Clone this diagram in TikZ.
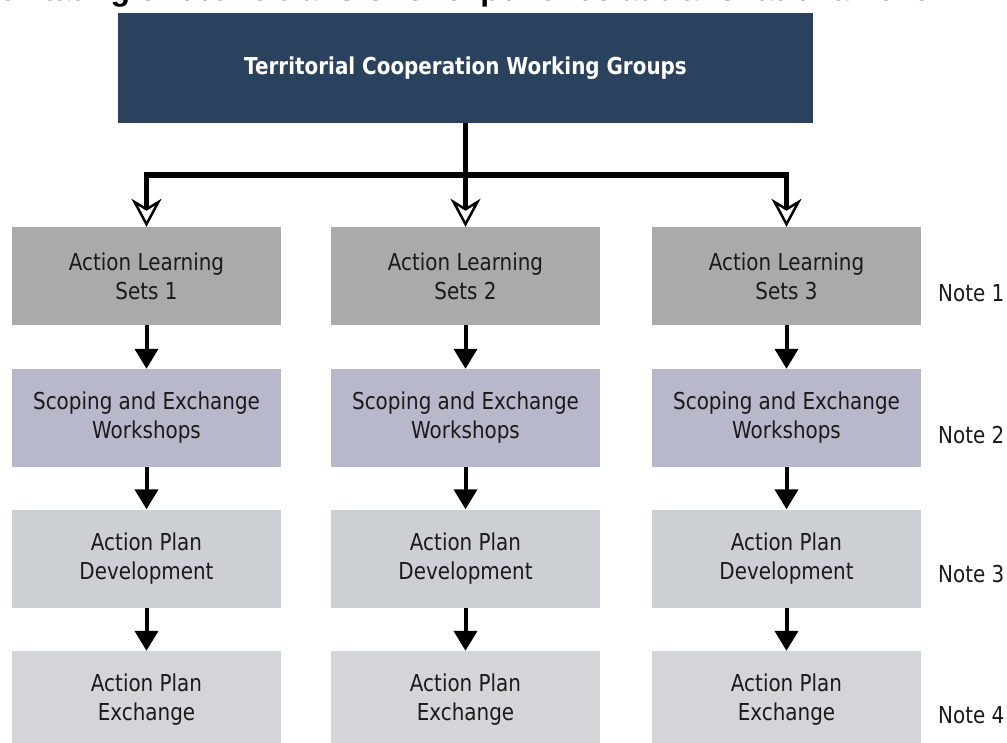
\documentclass[tikz,border=0pt]{standalone}
\usepackage{fontspec}
\setmainfont{DejaVu Sans}[FakeStretch=0.855]
\newfontfamily\headingfont{Liberation Sans}
\usetikzlibrary{arrows.meta}

\definecolor{headblue}{RGB}{42,66,93}
\definecolor{setgrey}{RGB}{170,170,170}
\definecolor{scopelilac}{RGB}{183,184,202}
\definecolor{plangrey}{RGB}{204,208,213}
\definecolor{exchgrey}{RGB}{211,213,216}
\definecolor{boxtext}{RGB}{26,26,26}

\begin{document}
\begin{tikzpicture}[x=1pt, y=-1pt,
  boxfont/.style={font=\fontsize{23.3}{29}\selectfont},
  stage/.style={boxfont, minimum width=269pt, minimum height=98pt,
    inner sep=0pt, align=center, text=boxtext},
  setbox/.style={stage, fill=setgrey},
  scopebox/.style={stage, fill=scopelilac},
  planbox/.style={stage, fill=plangrey},
  exchbox/.style={stage, fill=exchgrey},
  note/.style={boxfont, anchor=base west, inner sep=0pt, text=boxtext},
  trunk/.style={draw=black, line width=5.5pt},
  branch/.style={trunk, -{Stealth[length=28pt, width=30pt, inset=9pt,
    fill=white, line width=2.5pt]}},
  flow/.style={draw=black, line width=4pt,
    -{Triangle[length=20pt, width=23pt]}}]

\useasboundingbox (0,0) rectangle (1007,742);
\clip (0,0) rectangle (1007,742);

% heading line running off the top edge
\node[anchor=base west, inner sep=0pt,
  font=\headingfont\bfseries\fontsize{32}{38}\selectfont]
  (heading) at (-39,0.5) {Facilitating effective transfer of experience at transnational level};

% top box
\node[fill=headblue, minimum width=695pt, minimum height=110pt, inner sep=0pt,
  text=white, font=\bfseries\fontsize{23.3}{29}\selectfont]
  (groups) at (465.5,68) {Territorial Cooperation Working Groups};

% three columns of stages
\foreach \c/\x in {1/146.5, 2/465.5, 3/786.5} {
  \node[setbox]   (sets\c)  at (\x,276)   {Action Learning\\Sets \c};
  \node[scopebox] (scope\c) at (\x,418)   {Scoping and Exchange\\Workshops};
  \node[planbox]  (plan\c)  at (\x,558.5) {Action Plan\\Development};
  \node[exchbox]  (exch\c)  at (\x,700)   {Action Plan\\Exchange};
  \draw[flow] (sets\c.south)  -- (scope\c.north);
  \draw[flow] (scope\c.south) -- (plan\c.north);
  \draw[flow] (plan\c.south)  -- (exch\c.north);
}

% notes beside the rows
\node[note] (note1) at (938,301) {Note 1};
\node[note] (note2) at (938,443) {Note 2};
\node[note] (note3) at (938,582) {Note 3};
\node[note] (note4) at (938,723) {Note 4};

% branching connector from the top box
\coordinate (hub) at (465.5,175);
\draw[trunk] (groups.south) -- (hub);
\draw[branch] (hub) -| (sets1.north);
\draw[branch] (hub) -- (sets2.north);
\draw[branch] (hub) -| (sets3.north);
\end{tikzpicture}
\end{document}
